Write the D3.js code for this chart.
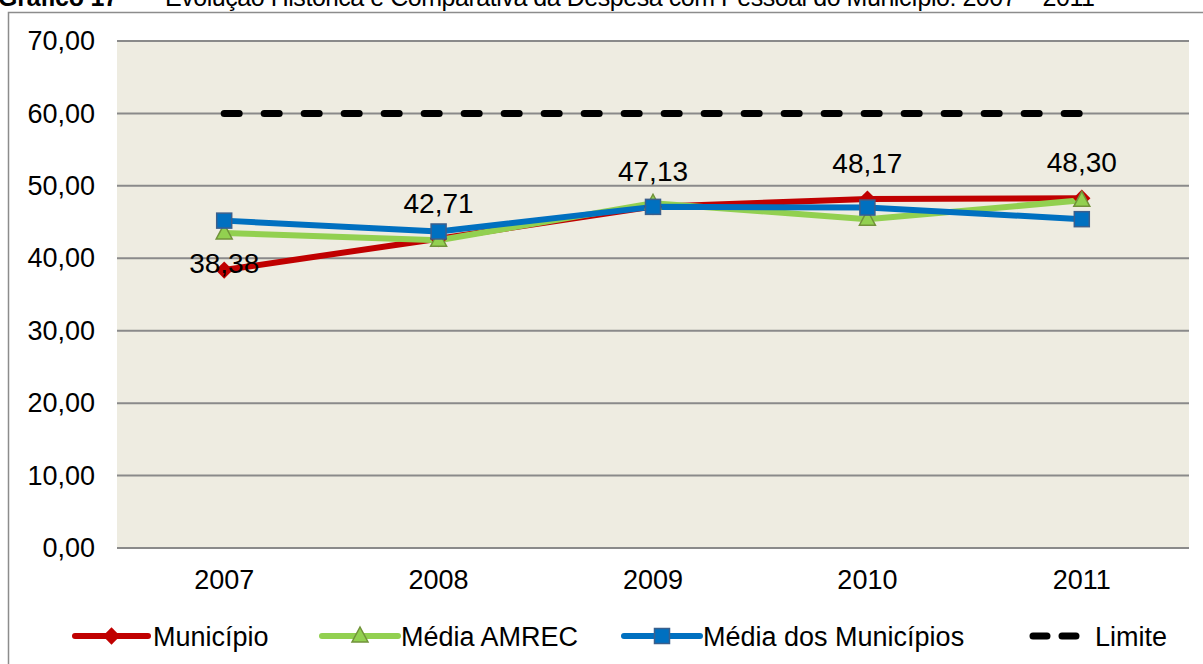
<!DOCTYPE html>
<html>
<head>
<meta charset="utf-8">
<script src="https://cdn.jsdelivr.net/npm/d3@7"></script>
<style>
  body { margin: 0; background: #fff; }
  svg { display: block; font-family: "Liberation Sans", Arial, sans-serif; }
</style>
</head>
<body>
<div class="graph"></div>
<script>
// data
var years = ["2007", "2008", "2009", "2010", "2011"];
var municipio = [38.38, 42.71, 47.13, 48.17, 48.30];
var mediaAmrec = [43.5, 42.5, 47.6, 45.4, 48.0];
var mediaMunicipios = [45.2, 43.7, 47.1, 47.0, 45.4];
var limite = [60, 60, 60, 60, 60];
var yTicks = [0, 10, 20, 30, 40, 50, 60, 70];
var seriesNames = ["Município", "Média AMREC", "Média dos Municípios", "Limite"];

var W = 1203, H = 664;
var plot = {left: 117, right: 1189, top: 41, bottom: 548};
var fontSize = 27;

var svg = d3.select("div.graph").append("svg")
    .attr("width", W)
    .attr("height", H);

// title, half cut off at the top like in the source
var title = svg.append("text")
    .attr("y", 6)
    .attr("font-family", "'Liberation Sans', Arial, sans-serif")
    .attr("font-size", 25);
title.append("tspan").attr("x", -2).attr("font-weight", "bold")
    .attr("textLength", 120).text("Gráfico 17");
title.append("tspan").attr("x", 138).text("–");
title.append("tspan").attr("x", 165)
    .attr("textLength", 930)
    .text("Evolução Histórica e Comparativa da Despesa com Pessoal do Município: 2007 – 2011");

// outer chart frame
svg.append("rect")
    .attr("x", 8.5).attr("y", 12.5)
    .attr("width", 1300).attr("height", 800)
    .attr("fill", "#fff")
    .attr("stroke", "#8c8c8c")
    .attr("stroke-width", 1.5);

var x = d3.scaleBand().domain(years).range([plot.left, plot.right]);
var y = d3.scaleLinear().domain([0, 70]).range([plot.bottom, plot.top]);
var cx = function(d) { return x(d) + x.bandwidth() / 2; };

svg.append("rect")
    .attr("x", plot.left).attr("y", plot.top)
    .attr("width", plot.right - plot.left)
    .attr("height", plot.bottom - plot.top)
    .attr("fill", "#eeece1");

// gridlines
svg.append("g")
    .selectAll("line")
    .data(yTicks)
    .enter().append("line")
      .attr("x1", plot.left).attr("x2", plot.right)
      .attr("y1", function(d) { return y(d); })
      .attr("y2", function(d) { return y(d); })
      .attr("stroke", "#8a8a8a")
      .attr("stroke-width", 2);

// y axis labels
var fmt = function(v) { return d3.format(".2f")(v).replace(".", ","); };
var yAxis = svg.append("g")
    .attr("transform", "translate(" + plot.left + ",0)")
    .call(d3.axisLeft(y).tickValues(yTicks).tickSize(0).tickPadding(22).tickFormat(fmt));
yAxis.select(".domain").remove();
yAxis.selectAll("text").attr("font-size", fontSize).attr("fill", "#000")
    .attr("font-family", "'Liberation Sans', Arial, sans-serif");

// x axis labels
var xAxis = svg.append("g")
    .attr("transform", "translate(0," + plot.bottom + ")")
    .call(d3.axisBottom(x).tickSize(0).tickPadding(22));
xAxis.select(".domain").remove();
xAxis.selectAll("text").attr("font-size", fontSize).attr("fill", "#000")
    .attr("font-family", "'Liberation Sans', Arial, sans-serif");

var line = d3.line()
    .x(function(d, i) { return cx(years[i]); })
    .y(function(d) { return y(d); });

// limite (dashed)
svg.append("path")
    .datum(limite)
    .attr("d", line)
    .attr("fill", "none")
    .attr("stroke", "#000")
    .attr("stroke-width", 7)
    .attr("stroke-linecap", "round")
    .attr("stroke-dasharray", "15,25");

var red = "#c00000", green = "#92d050", blue = "#0070c0";

function drawSeries(values, color) {
  svg.append("path")
      .datum(values)
      .attr("d", line)
      .attr("fill", "none")
      .attr("stroke", color)
      .attr("stroke-width", 6)
      .attr("stroke-linejoin", "round");
}

function diamond(g, px, py) {
  g.append("path")
      .attr("d", d3.symbol().type(d3.symbolDiamond2).size(190)())
      .attr("transform", "translate(" + px + "," + py + ")")
      .attr("fill", red);
}
function triangle(g, px, py) {
  g.append("path")
      .attr("d", "M0,-9L8,6L-8,6Z")
      .attr("transform", "translate(" + px + "," + py + ")")
      .attr("fill", green)
      .attr("stroke", "#71923a")
      .attr("stroke-width", 1.5);
}
function square(g, px, py) {
  g.append("rect")
      .attr("x", px - 7.5).attr("y", py - 7.5)
      .attr("width", 15).attr("height", 15)
      .attr("fill", blue)
      .attr("stroke", "#3b5f8c")
      .attr("stroke-width", 1.5);
}

drawSeries(municipio, red);
drawSeries(mediaAmrec, green);
drawSeries(mediaMunicipios, blue);

var markers = svg.append("g");
municipio.forEach(function(v, i) { diamond(markers, cx(years[i]), y(v)); });
mediaAmrec.forEach(function(v, i) { triangle(markers, cx(years[i]), y(v)); });
mediaMunicipios.forEach(function(v, i) { square(markers, cx(years[i]), y(v)); });

// data labels for Município (first one sits on the point, like the source)
svg.append("g")
    .selectAll("text")
    .data(municipio)
    .enter().append("text")
      .attr("x", function(d, i) { return cx(years[i]); })
      .attr("y", function(d, i) { return y(d) + (i === 0 ? 3 : -26); })
      .attr("text-anchor", "middle")
      .attr("font-size", 28)
      .attr("fill", "#000")
      .text(fmt);

// legend
var legY = 636;
var legend = svg.append("g").attr("font-size", fontSize);
var legItems = [
  {x1: 75, x2: 148, tx: 153, name: seriesNames[0]},
  {x1: 322, x2: 398, tx: 401, name: seriesNames[1]},
  {x1: 624, x2: 700, tx: 703, name: seriesNames[2]},
  {x1: 1030, x2: 1083, tx: 1095, name: seriesNames[3]}
];
legItems.forEach(function(it, i) {
  var ln = legend.append("line")
      .attr("x1", it.x1).attr("x2", it.x2)
      .attr("y1", legY).attr("y2", legY);
  if (i < 3) {
    ln.attr("stroke", [red, green, blue][i]).attr("stroke-width", 6).attr("stroke-linecap", "round");
    var mx = (it.x1 + it.x2) / 2;
    if (i === 0) diamond(legend, mx, legY);
    if (i === 1) triangle(legend, mx, legY);
    if (i === 2) square(legend, mx, legY);
  } else {
    ln.attr("x1", it.x1 + 3).attr("x2", it.x2 - 3)
      .attr("stroke", "#000").attr("stroke-width", 7)
      .attr("stroke-linecap", "round").attr("stroke-dasharray", "14,15");
  }
  legend.append("text")
      .attr("x", it.tx).attr("y", legY)
      .attr("dy", "0.36em")
      .attr("fill", "#000")
      .text(it.name);
});
</script>
</body>
</html>
